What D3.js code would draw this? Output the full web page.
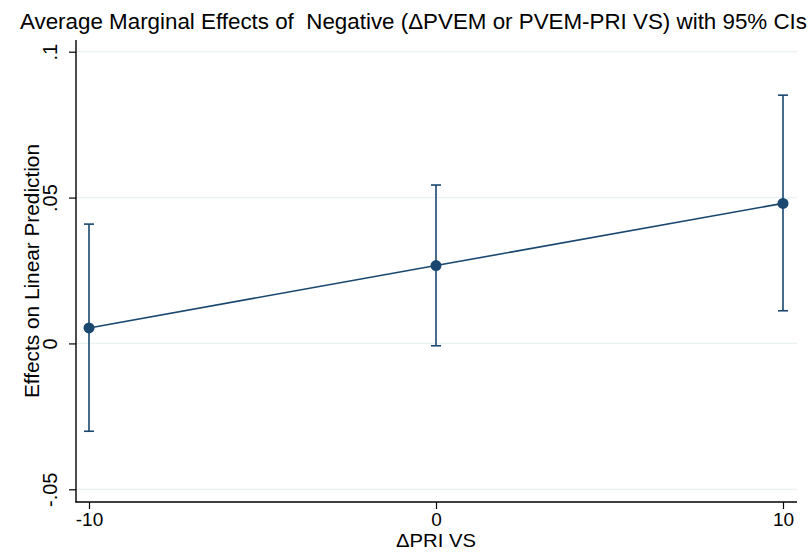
<!DOCTYPE html>
<html><head><meta charset="utf-8">
<script src="https://cdn.jsdelivr.net/npm/d3@7"></script>
<style>body{margin:0;background:#fff}svg{display:block}text{font-family:"Liberation Sans",Arial,sans-serif;fill:#000;white-space:pre}</style>
</head><body>
<script>
const xValues = [-10, 0, 10];
const estimates = [0.0053, 0.0267, 0.0480];
const ciLower = [-0.0301, -0.0008, 0.0112];
const ciUpper = [0.0409, 0.0543, 0.0851];
const xTicks = [-10, 0, 10];
const xTickLabels = ["-10", "0", "10"];
const yTicks = [-0.05, 0, 0.05, 0.1];
const yTickLabels = ["-.05", "0", ".05", ".1"];
const titleText = "Average Marginal Effects of  Negative (\u0394PVEM or PVEM-PRI VS) with 95% CIs";
const xTitle = "\u0394PRI VS";
const yTitle = "Effects on Linear Prediction";

const W = 809, H = 552;
const pLeft = 76, pRight = 797, pTop = 40, pBottom = 502;
const svg = d3.select("body").append("svg").attr("width", W).attr("height", H);
const x = d3.scaleLinear().domain([-10, 10]).range([89, 783]);
const y = d3.scaleLinear().domain([-0.05, 0.1]).range([489.3, 51.7]);
const navy = "#1a476f";
const tickFont = 20;

// gridlines
svg.append("g").selectAll("line").data(yTicks).join("line")
  .attr("x1", pLeft).attr("x2", pRight)
  .attr("y1", d => y(d)).attr("y2", d => y(d))
  .attr("stroke", "#eaf2f3").attr("stroke-width", 1.3);

// y axis
const yAxis = d3.axisLeft(y).tickValues(yTicks).tickFormat((d, i) => yTickLabels[i]).tickSize(7).tickPadding(4);
const gy = svg.append("g").attr("transform", `translate(${pLeft},0)`).call(yAxis);
gy.select(".domain").remove();
gy.selectAll(".tick line").attr("stroke", "#000").attr("stroke-width", 1.2);
gy.selectAll(".tick text").attr("font-size", tickFont).attr("text-anchor", "middle")
  .attr("x", 0).attr("y", 0).attr("dy", "0")
  .attr("transform", "translate(-19,0) rotate(-90)")
  .attr("font-family", "Liberation Sans, Arial, sans-serif");
svg.append("line").attr("x1", pLeft).attr("x2", pLeft).attr("y1", pTop).attr("y2", pBottom + 0.5)
  .attr("stroke", "#000").attr("stroke-width", 1.4);

// x axis
const xAxis = d3.axisBottom(x).tickValues(xTicks).tickFormat((d, i) => xTickLabels[i]).tickSize(7).tickPadding(4);
const gx = svg.append("g").attr("transform", `translate(0,${pBottom})`).call(xAxis);
gx.select(".domain").remove();
gx.selectAll(".tick line").attr("stroke", "#000").attr("stroke-width", 1.2);
gx.selectAll(".tick text").attr("font-size", 19).attr("dy", 0).attr("y", 23.5)
  .attr("font-family", "Liberation Sans, Arial, sans-serif");
svg.append("line").attr("x1", pLeft - 0.5).attr("x2", pRight).attr("y1", pBottom).attr("y2", pBottom)
  .attr("stroke", "#000").attr("stroke-width", 1.4);

// CIs
const data = xValues.map((v, i) => ({x: v, e: estimates[i], lo: ciLower[i], hi: ciUpper[i]}));
const g = svg.append("g");
g.selectAll(".ci").data(data).join("line").attr("class", "ci")
  .attr("x1", d => x(d.x)).attr("x2", d => x(d.x))
  .attr("y1", d => y(d.lo)).attr("y2", d => y(d.hi))
  .attr("stroke", navy).attr("stroke-width", 1.6);
g.selectAll(".caplo").data(data).join("line").attr("class", "caplo")
  .attr("x1", d => x(d.x) - 5).attr("x2", d => x(d.x) + 5)
  .attr("y1", d => y(d.lo)).attr("y2", d => y(d.lo))
  .attr("stroke", navy).attr("stroke-width", 1.6);
g.selectAll(".caphi").data(data).join("line").attr("class", "caphi")
  .attr("x1", d => x(d.x) - 5).attr("x2", d => x(d.x) + 5)
  .attr("y1", d => y(d.hi)).attr("y2", d => y(d.hi))
  .attr("stroke", navy).attr("stroke-width", 1.6);
g.append("path").datum(data)
  .attr("d", d3.line().x(d => x(d.x)).y(d => y(d.e)))
  .attr("fill", "none").attr("stroke", navy).attr("stroke-width", 1.6);
g.selectAll("circle").data(data).join("circle")
  .attr("cx", d => x(d.x)).attr("cy", d => y(d.e)).attr("r", 5.5).attr("fill", navy);

// titles
svg.append("text").attr("x", 20).attr("y", 29).attr("text-anchor", "start")
  .attr("font-size", 22).attr("textLength", 787).attr("lengthAdjust", "spacingAndGlyphs")
  .text(titleText);
svg.append("text").attr("x", x(0)).attr("y", 547).attr("text-anchor", "middle")
  .attr("font-size", 18.5).attr("textLength", 80).attr("lengthAdjust", "spacingAndGlyphs")
  .text(xTitle);
svg.append("text").attr("transform", `translate(39,${(pTop + pBottom) / 2}) rotate(-90)`)
  .attr("text-anchor", "middle").attr("font-size", 21)
  .attr("textLength", 254).attr("lengthAdjust", "spacingAndGlyphs").text(yTitle);
</script>
</body></html>
